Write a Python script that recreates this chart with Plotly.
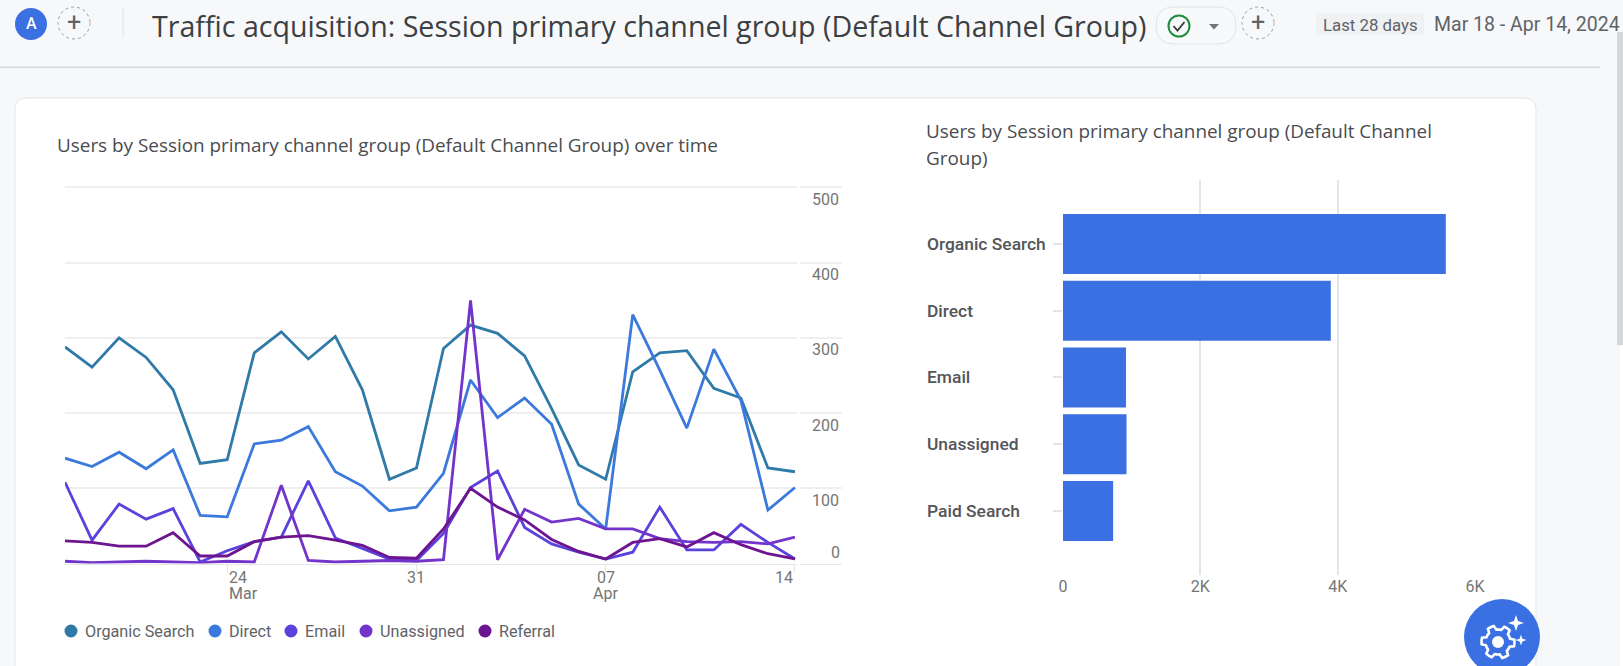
import math
import pandas as pd
import plotly.graph_objects as go

W, H = 1623, 666

dates = pd.date_range("2024-03-18", "2024-04-14").strftime("%Y-%m-%d").tolist()
organic = [288, 261, 300, 274, 231, 133, 138, 280, 308, 272, 302, 231, 112, 127,
           286, 317, 306, 276, 206, 131, 112, 255, 280, 283, 233, 220, 127, 122]
direct = [140, 129, 148, 126, 151, 64, 62, 159, 164, 182, 122, 103, 70, 75,
          120, 244, 194, 220, 185, 79, 46, 331, 257, 180, 285, 217, 71, 101]
email = [108, 31, 79, 59, 73, 2, 17, 29, 35, 110, 34, 20, 6, 4,
         40, 101, 123, 48, 26, 15, 6, 15, 75, 18, 18, 52, 28, 6]
unassigned = [3, 1, 2, 3, 2, 1, 3, 2, 104, 4, 2, 3, 4, 3,
              5, 350, 5, 72, 55, 60, 46, 46, 33, 29, 28, 29, 26, 35]
referral = [30, 28, 23, 23, 41, 10, 10, 29, 35, 37, 31, 24, 8, 7,
            46, 100, 75, 58, 32, 16, 6, 28, 33, 22, 41, 25, 13, 6]
line_names = ["Organic Search", "Direct", "Email", "Unassigned", "Referral"]
line_values = [organic, direct, email, unassigned, referral]
line_colors = ["#2f7aa8", "#3c79dc", "#5a43dc", "#7334cc", "#6d1590"]

bar_categories = ["Organic Search", "Direct", "Email", "Unassigned", "Paid Search"]
bar_values = [5575, 3900, 917, 925, 730]

y_ticks = [0, 100, 200, 300, 400, 500]
y_tick_labels = ["", "100", "200", "300", "400", "500"]
bar_ticks = [0, 2000, 4000, 6000]
bar_tick_labels = ["0", "2K", "4K", "6K"]


def px(x):
    return x / W


def py(y):
    return 1 - y / H


fig = go.Figure()
for name, vals, col in zip(line_names, line_values, line_colors):
    fig.add_trace(go.Scatter(x=dates, y=vals, mode="lines", name=name,
                             line=dict(color=col, width=2.8), showlegend=False,
                             xaxis="x", yaxis="y"))
fig.add_trace(go.Bar(x=bar_values, y=bar_categories, orientation="h", marker=dict(color="#3a70e2", line_width=0),
                     showlegend=False, xaxis="x2", yaxis="y2"))

GRID = "#efefef"
TICKC = "#757575"
font = "Roboto"
title_font = "Open Sans"

shapes, ann = [], []


def rrect(x0, y0, x1, y1, r, fill=None, line=None, lw=1, layer="below"):
    d = (f"M{px(x0 + r)},{py(y0)} L{px(x1 - r)},{py(y0)} Q{px(x1)},{py(y0)} {px(x1)},{py(y0 + r)} "
         f"L{px(x1)},{py(y1 - r)} Q{px(x1)},{py(y1)} {px(x1 - r)},{py(y1)} L{px(x0 + r)},{py(y1)} "
         f"Q{px(x0)},{py(y1)} {px(x0)},{py(y1 - r)} L{px(x0)},{py(y0 + r)} Q{px(x0)},{py(y0)} {px(x0 + r)},{py(y0)} Z")
    shapes.append(dict(type="path", path=d, xref="paper", yref="paper", fillcolor=fill or "rgba(0,0,0,0)",
                       line=dict(color=line or "rgba(0,0,0,0)", width=lw), layer=layer))


def rect(x0, y0, x1, y1, fill, layer="below"):
    shapes.append(dict(type="rect", xref="paper", yref="paper", x0=px(x0), x1=px(x1), y0=py(y0), y1=py(y1),
                       fillcolor=fill, line_width=0, layer=layer))


def circle(cx, cy, r, fill=None, line=None, lw=1, dash="solid", layer="above"):
    shapes.append(dict(type="circle", xref="paper", yref="paper", x0=px(cx - r), x1=px(cx + r),
                       y0=py(cy - r), y1=py(cy + r), fillcolor=fill or "rgba(0,0,0,0)",
                       line=dict(color=line or "rgba(0,0,0,0)", width=lw, dash=dash), layer=layer))


def poly(points, fill=None, line=None, lw=1, close=True):
    d = "M" + " L".join(f"{px(a)},{py(b)}" for a, b in points) + (" Z" if close else "")
    shapes.append(dict(type="path", path=d, xref="paper", yref="paper", fillcolor=fill or "rgba(0,0,0,0)",
                       line=dict(color=line or "rgba(0,0,0,0)", width=lw), layer="above"))


def text(x, y, s, size, color, anchor="left", weight=None, fam=font):
    f = dict(family=fam, size=size, color=color)
    if weight:
        f["weight"] = weight
    ann.append(dict(text=s, x=px(x), y=py(y), xref="paper", yref="paper", xanchor=anchor, yanchor="middle",
                    showarrow=False, font=f, align=anchor, xshift=0, borderpad=0, borderwidth=0))


# card and header chrome
rrect(15, 98, 1536, 700, 12, fill="#ffffff", line="#e3e5e8", lw=1)
rect(0, 66.5, 1600, 68, "#d6d8db")
rect(122.5, 8, 123.5, 38, "#e0e2e5")
rect(1617, 32, 1623, 345, "#d4d6d9")
rect(1620, 345, 1623, 666, "#ffffff")

circle(31, 24, 16, fill="#3a70e2")
text(31, 24, "A", 16, "#ffffff", "center", 500)
circle(74, 23, 16, line="#9a9ea3", lw=1, dash="dot")
text(74, 22, "+", 25, "#5f6368", "center")
text(152, 25.5, "Traffic acquisition: Session primary channel group (Default Channel Group)", 28.6, "#3c4043", fam=title_font)

rrect(1156, 7, 1236, 44, 18, fill="#f8f9fa", line="#e1e3e6", lw=1, layer="above")
circle(1179, 26, 10.5, line="#1e8e3e", lw=2)
poly([(1173.5, 26), (1177.5, 30.5), (1184.5, 22)], line="#333a36", lw=1.8, close=False)
poly([(1209, 24), (1219, 24), (1214, 29.5)], fill="#70757a")
circle(1258, 23, 16, line="#9a9ea3", lw=1, dash="dot")
text(1258, 22, "+", 25, "#5f6368", "center")

rect(1316, 13, 1424, 35, "#f0f1f3")
text(1370, 25, "Last 28 days", 16.8, "#5f6368", "center")
text(1434, 25, "Mar 18 - Apr 14, 2024", 19.5, "#5f6368")

# chart titles
text(57, 145, "Users by Session primary channel group (Default Channel Group) over time", 18.9, "#4a4c50", fam=title_font)
text(926, 131, "Users by Session primary channel group (Default Channel", 18.9, "#4a4c50", fam=title_font)
text(926, 158, "Group)", 18.9, "#4a4c50", fam=title_font)

# gap between the plot area and the value labels
rect(797, 180, 800, 570, "#ffffff", layer="above")

# x tick labels of the date axis
for d, s, anchor in [("2024-03-24", "24", "left"), ("2024-03-31", "31", "center"),
                     ("2024-04-07", "07", "center"), ("2024-04-14", "14", "right")]:
    ann.append(dict(text=s, x=d, y=py(577), xref="x", yref="paper", xanchor=anchor, yanchor="middle",
                    showarrow=False, font=dict(family=font, size=16, color=TICKC)))
for d, s, anchor in [("2024-03-24", "Mar", "left"), ("2024-04-07", "Apr", "center")]:
    ann.append(dict(text=s, x=d, y=py(593), xref="x", yref="paper", xanchor=anchor, yanchor="middle",
                    showarrow=False, font=dict(family=font, size=16, color=TICKC)))

# the zero label sits above its gridline
ann.append(dict(text="0", x=px(842), y=0, xref="paper", yref="y", xanchor="right", yanchor="middle", yshift=11,
                showarrow=False, font=dict(family=font, size=16, color=TICKC)))

# legend
leg_x = [71, 215, 291, 366, 485]
for name, col, lx in zip(line_names, line_colors, leg_x):
    circle(lx, 631, 6.5, fill=col)
    text(lx + 14, 631, name, 16.2, "#5f6368")

# bar category labels
for cat in bar_categories:
    ann.append(dict(text=cat, x=px(925), y=cat, xref="paper", yref="y2", xanchor="left", yanchor="middle",
                    showarrow=False, font=dict(family="Roboto Medium, Roboto", size=17.4, color="#54565a")))

# assistant button
circle(1502, 637, 38, fill="#3a70e2")
gx, gy = 1498, 642
gear = []
for i in range(48):
    a = 2 * math.pi * i / 48
    phase = (i % 8)
    r = 16.5 if phase in (0, 1, 2, 7) else 12.5
    gear.append((gx + r * math.cos(a), gy + r * math.sin(a)))
poly(gear, line="#ffffff", lw=2.6)
circle(gx, gy, 6, fill="#ffffff")
for cx, cy, s in [(1516, 623, 8), (1521, 640, 5.5)]:
    k = s * 0.25
    poly([(cx, cy - s), (cx + k, cy - k), (cx + s, cy), (cx + k, cy + k),
          (cx, cy + s), (cx - k, cy + k), (cx - s, cy), (cx - k, cy - k)], fill="#ffffff")

fig.update_layout(
    width=W, height=H, margin=dict(l=0, r=0, t=0, b=0, pad=0), autosize=False,
    paper_bgcolor="#f7f8fa", plot_bgcolor="rgba(0,0,0,0)", font=dict(family=font, color=TICKC),
    showlegend=False, bargap=0.1, shapes=shapes, annotations=ann,
    xaxis=dict(domain=[px(65), px(842)], type="date", range=["2024-03-18", "2024-04-15 17:46"], automargin=False,
               tickmode="array", tickvals=["2024-03-24", "2024-03-31", "2024-04-07", "2024-04-14"],
               showticklabels=False, ticks="outside", ticklen=8, tickcolor="#e6e6e6", tickwidth=1,
               showgrid=False, zeroline=False, showline=True, linecolor="#e6e6e6", linewidth=1),
    yaxis=dict(domain=[py(563.5), py(172.44)], range=[0, 520], side="right", anchor="x", automargin=False,
               tickmode="array", tickvals=y_ticks, ticktext=y_tick_labels, ticklabelposition="inside", ticklabelshift=12,
               ticks="", tickfont=dict(family=font, size=16, color=TICKC),
               showgrid=True, gridcolor=GRID, gridwidth=1.5, zeroline=False, showline=False),
    xaxis2=dict(domain=[px(1063), px(1475)], range=[0, 6000], anchor="y2", tickmode="array", automargin=False,
                tickvals=bar_ticks, ticktext=bar_tick_labels, ticks="", tickfont=dict(family=font, size=16, color=TICKC),
                showgrid=True, gridcolor="#e4e4e4", gridwidth=1.5, zeroline=False, showline=False, ticklabelstandoff=0),
    yaxis2=dict(domain=[py(575), py(180)], anchor="x2", type="category", categoryorder="array", automargin=False,
                categoryarray=bar_categories, range=[4.96, -0.959], showticklabels=False,
                ticks="outside", ticklen=9, tickcolor="#e4e4e4", tickwidth=1.5, showgrid=False,
                zeroline=False, showline=False),
)

fig.write_html("out.html", config=dict(displayModeBar=False),
               post_script="document.body.style.margin='0';document.body.style.overflow='hidden';")
